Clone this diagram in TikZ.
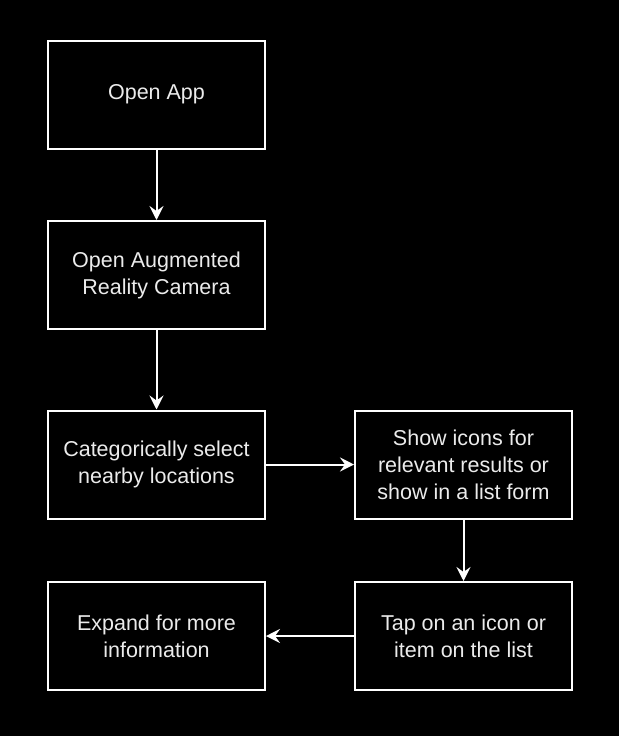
\documentclass[tikz,border=0pt]{standalone}
\usepackage{fontspec}
\setmainfont{Liberation Sans}
\usetikzlibrary{arrows.meta}
\begin{document}
\begin{tikzpicture}[x=1pt, y=-1pt,
    every node/.style={font=\fontsize{21.5}{27}\selectfont, text=white!92!black},
    stepbox/.style={draw=white, line width=2pt, minimum width=217pt, minimum height=108pt, align=center, inner sep=0pt},
    flow/.style={draw=white, line width=2pt, -{Stealth[length=14pt, width=14pt, inset=5pt]}}]
    \fill[black] (0,0) rectangle (619,736);
    \useasboundingbox (0,0) rectangle (619,736);

    \node[stepbox] (open) at (156.5,94.5) {Open App};
    \node[stepbox] (camera) at (156.5,275) {Open Augmented\\Reality Camera};
    \node[stepbox] (select) at (156.5,464.5) {Categorically select\\nearby locations};
    \node[stepbox] (icons) at (463.5,464.5) {Show icons for\\relevant results or\\show in a list form};
    \node[stepbox] (tap) at (463.5,636) {Tap on an icon or\\item on the list};
    \node[stepbox] (expand) at (156.5,636) {Expand for more\\information};

    \draw[flow] (open) -- (camera);
    \draw[flow] (camera) -- (select);
    \draw[flow] (select) -- (icons);
    \draw[flow] (icons) -- (tap);
    \draw[flow] (tap) -- (expand);
\end{tikzpicture}
\end{document}
